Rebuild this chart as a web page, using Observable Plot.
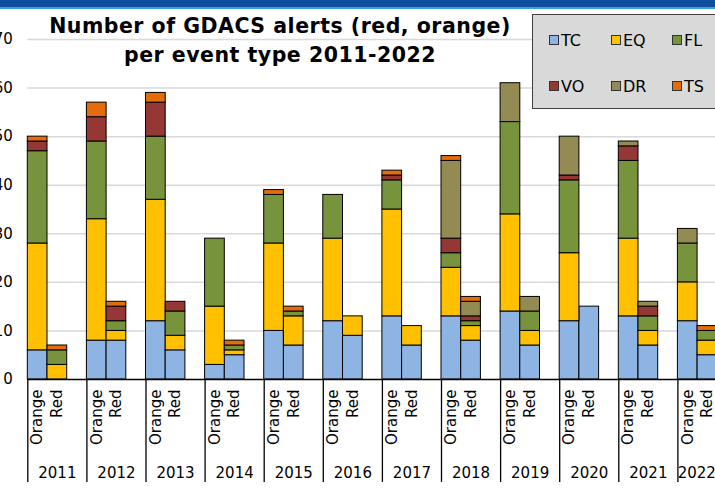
<!DOCTYPE html>
<html>
<head>
<meta charset="utf-8">
<script src="https://cdn.jsdelivr.net/npm/d3@7"></script>
<script src="https://cdn.jsdelivr.net/npm/@observablehq/plot@0.6"></script>
<style>
  html, body { margin: 0; padding: 0; background: #fff; overflow: hidden; width: 715px; height: 489px; }
  #wrap { position: relative; width: 715px; height: 489px; overflow: hidden; font-family: "DejaVu Sans", Verdana, sans-serif; }
  #chart { position: absolute; left: -15px; top: 0; width: 762px; height: 489px; }
  #chart svg { max-width: none !important; width: 762px !important; height: 489px !important; overflow: visible; }
  #band1 { position: absolute; left: 0; top: 0; width: 715px; height: 7px; background: #0f4f9e; z-index: 3; }
  #band2 { position: absolute; left: 0; top: 7px; width: 715px; height: 2px; background: #3e9fdc; z-index: 3; }
  #title { position: absolute; left: 0; top: 12px; width: 560px; text-align: center; font-weight: bold; font-size: 20.5px; letter-spacing: 0.5px; line-height: 29px; color: #000; z-index: 2; }
  #legend { position: absolute; left: 532px; top: 14px; width: 220px; height: 93px; background: #d9d9d9; border: 1px solid #404040; z-index: 2; }
  .li { position: absolute; font-size: 16px; color: #000; line-height: 16px; }
  .sw { display: inline-block; width: 8px; height: 8px; border: 1px solid #333; margin-right: 2px; vertical-align: 1px; }
</style>
</head>
<body>
<div id="wrap">
  <div id="chart"></div>
  <div id="band1"></div><div id="band2"></div>
  <div id="title">Number of GDACS alerts (red, orange)<br>per event type 2011-2022</div>
  <div id="legend"></div>
</div>
<script>
const years = [2011, 2012, 2013, 2014, 2015, 2016, 2017, 2018, 2019, 2020, 2021, 2022];
const types = ["TC", "EQ", "FL", "VO", "DR", "TS"];
const typeColors = ["#8eb4e3", "#ffc000", "#77933c", "#953735", "#948a54", "#e46c0a"];
const alertLevels = ["Orange", "Red"];
const yTicks = [0, 10, 20, 30, 40, 50, 60, 70];

// Orange alerts per type
const orangeTC = [6, 8, 12, 3, 10, 12, 13, 13, 14, 12, 13, 12];
const orangeEQ = [22, 25, 25, 12, 18, 17, 22, 10, 20, 14, 16, 8];
const orangeFL = [19, 16, 13, 14, 10, 9, 6, 3, 19, 15, 16, 8];
const orangeVO = [2, 5, 7, 0, 0, 0, 1, 3, 0, 1, 3, 0];
const orangeDR = [0, 0, 0, 0, 0, 0, 0, 16, 8, 8, 1, 3];
const orangeTS = [1, 3, 2, 0, 1, 0, 1, 1, 0, 0, 0, 0];
// Red alerts per type
const redTC = [0, 8, 6, 5, 7, 9, 7, 8, 7, 15, 7, 5];
const redEQ = [3, 2, 3, 1, 6, 4, 4, 3, 3, 0, 3, 3];
const redFL = [3, 2, 5, 1, 1, 0, 0, 1, 4, 0, 3, 2];
const redVO = [0, 3, 2, 0, 0, 0, 0, 1, 0, 0, 2, 0];
const redDR = [0, 0, 0, 0, 0, 0, 0, 3, 3, 0, 1, 0];
const redTS = [1, 1, 0, 1, 1, 0, 0, 1, 0, 0, 0, 1];

const orangeSeries = [orangeTC, orangeEQ, orangeFL, orangeVO, orangeDR, orangeTS];
const redSeries = [redTC, redEQ, redFL, redVO, redDR, redTS];

const key = (y, l) => `${y}-${l}`;
const domain = years.flatMap(y => [key(y, "Orange"), key(y, "Red"), key(y, "gap")]);

const rows = [];
types.forEach((t, ti) => {
  years.forEach((y, yi) => {
    rows.push({slot: key(y, "Orange"), type: t, value: orangeSeries[ti][yi]});
    rows.push({slot: key(y, "Red"), type: t, value: redSeries[ti][yi]});
  });
});
const catLabels = years.flatMap(y => alertLevels.map(l => ({slot: key(y, l), label: l})));

const bw = 19.7;
const marginLeft = 42.3;
const innerW = bw * domain.length;
const W = 762;
const sepDepth = -21.2;
const lastYear = years[years.length - 1];

const plot = Plot.plot({
  width: W,
  height: 489,
  marginLeft: marginLeft,
  marginRight: W - marginLeft - innerW,
  marginTop: 39,
  marginBottom: 110,
  style: {fontFamily: "'DejaVu Sans', Verdana, sans-serif", overflow: "visible", background: "transparent"},
  x: {type: "band", domain: domain, padding: 0, round: false, axis: null},
  y: {domain: [0, 70], axis: null},
  color: {domain: types, range: typeColors},
  marks: [
    Plot.ruleY(yTicks.filter(d => d > 0), {stroke: "#d9d9d9", strokeWidth: 1.5}),
    Plot.barY(rows, {x: "slot", y: "value", fill: "type", stroke: "#000", strokeWidth: 1}),
    Plot.ruleY([0], {stroke: "#000", strokeWidth: 1.5}),
    Plot.ruleX(years, {x: d => key(d, "Orange"), y1: 0, y2: sepDepth, dx: -bw / 2, stroke: "#000", strokeWidth: 1.3}),
    Plot.text(yTicks, {x: () => domain[0], y: d => d, text: d => String(d), textAnchor: "end", dx: -bw / 2 - 15, fontSize: 15, fill: "#000"}),
    Plot.text(catLabels, {x: "slot", y: 0, text: "label", rotate: -90, textAnchor: "end", dy: 10, fontSize: 15, fill: "#000"}),
    Plot.text(years.filter(y => y !== lastYear), {x: d => key(d, "Red"), y: 0, text: d => String(d), dy: 94, fontSize: 15, fill: "#000"}),
    Plot.text([lastYear], {x: d => key(d, "Orange"), y: 0, text: d => String(d), dx: 9, dy: 94, fontSize: 15, fill: "#000"})
  ]
});
document.getElementById("chart").appendChild(plot);

// Legend
const legend = document.getElementById("legend");
const legX = [16, 78, 139];
const legY = [18, 64];
types.forEach((t, i) => {
  const el = document.createElement("div");
  el.className = "li";
  el.style.left = legX[i % 3] + "px";
  el.style.top = legY[Math.floor(i / 3)] + "px";
  el.innerHTML = `<span class="sw" style="background:${typeColors[i]}"></span>${t}`;
  legend.appendChild(el);
});
</script>
</body>
</html>
